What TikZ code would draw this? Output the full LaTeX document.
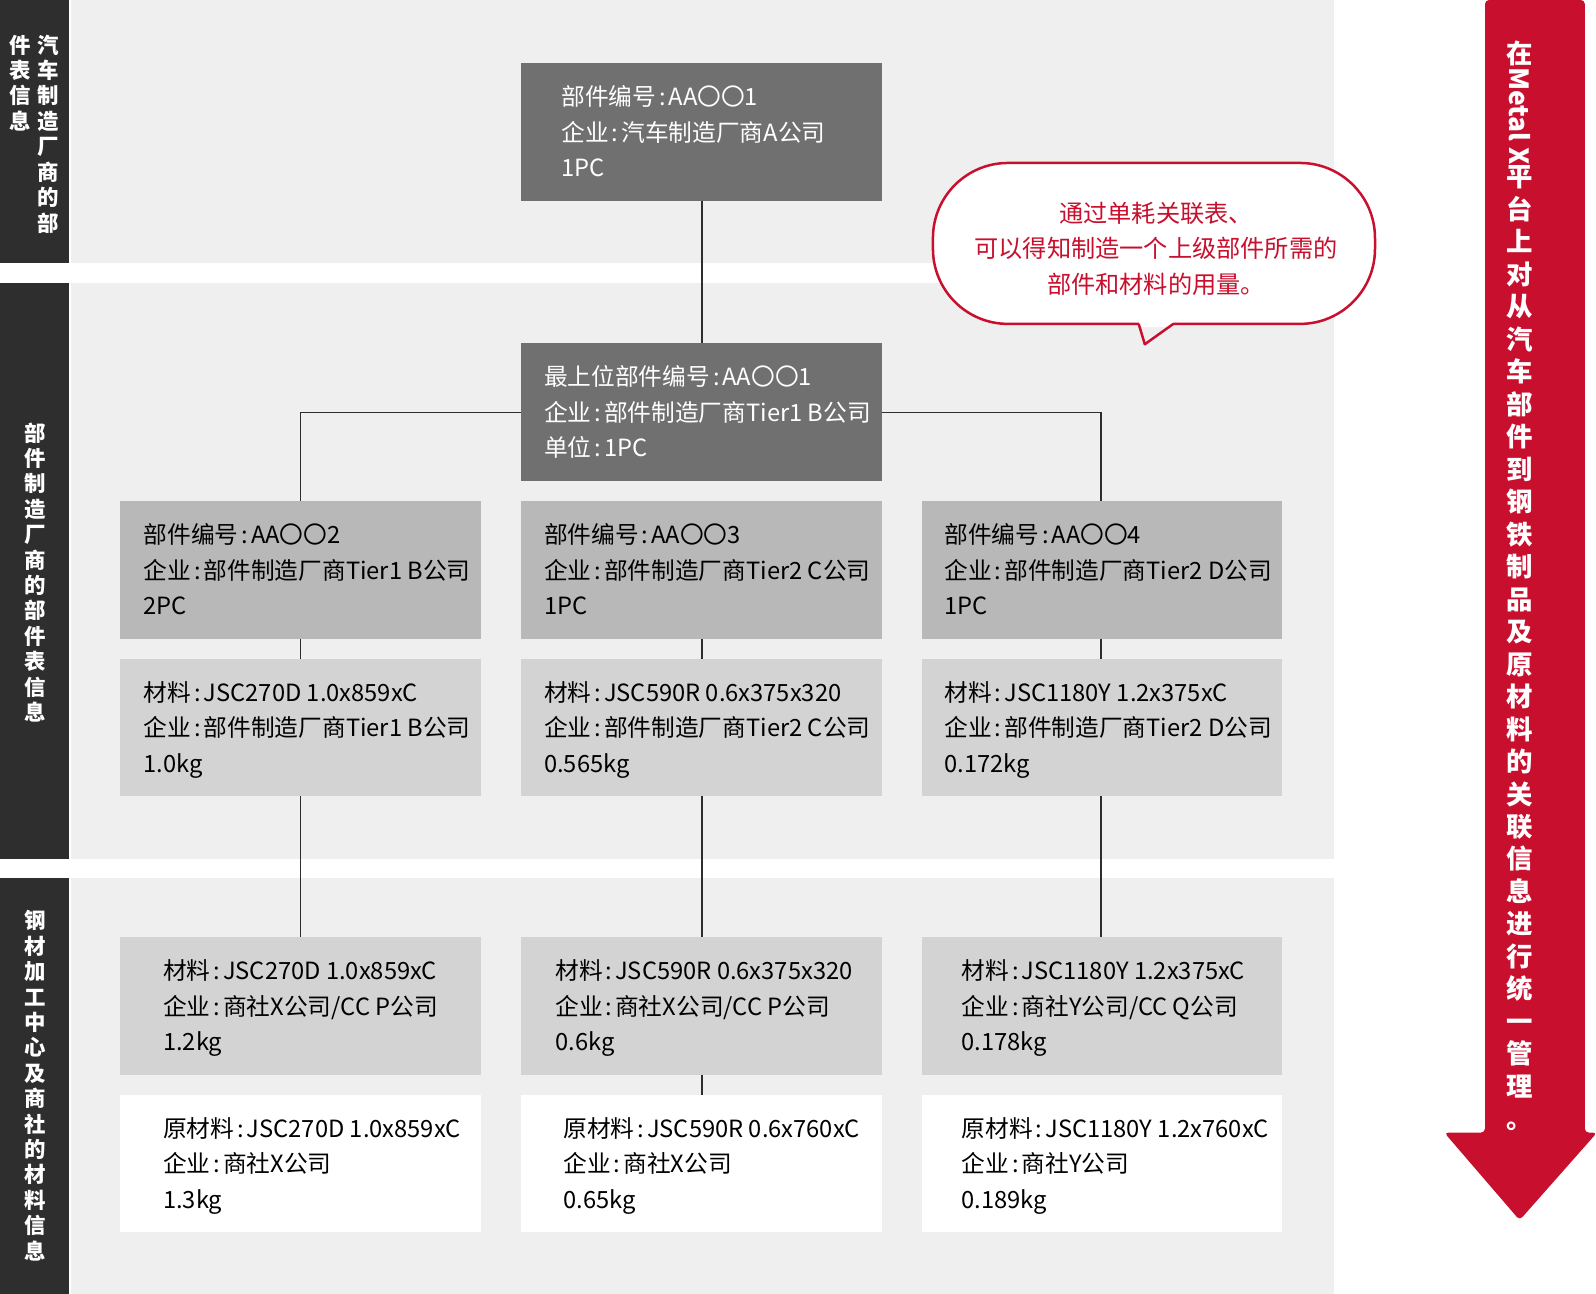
\documentclass[tikz,border=0pt]{standalone}
\usepackage{fontspec}
\setmainfont{Noto Sans CJK SC}
\definecolor{bgg}{HTML}{EFEFEF}
\definecolor{band}{HTML}{2E2E2E}
\definecolor{dk}{HTML}{707070}
\definecolor{md}{HTML}{B8B8B8}
\definecolor{lt}{HTML}{D3D3D3}
\definecolor{rd}{HTML}{C8102E}
\newcommand{\cln}{\kern3pt:\kern3pt}
\begin{document}
\begin{tikzpicture}[x=1.0185bp,y=-1.0185bp,
  boxtxt/.style={anchor=north west,align=left,font=\fontsize{23.8}{35.6}\selectfont,inner sep=0pt},
  vtxt/.style={align=center,font=\fontsize{21.5}{25.5}\selectfont\bfseries,text=white,inner sep=0pt},
  conn/.style={draw=band,line width=1.5bp}]
\useasboundingbox (0,0) rectangle (1567,1270);
% backgrounds
\fill[bgg] (70,0) rectangle (1310,258);
\fill[bgg] (70,278) rectangle (1310,843);
\fill[bgg] (70,862) rectangle (1310,1270);
\fill[band] (0,0) rectangle (68,258);
\fill[band] (0,278) rectangle (68,843);
\fill[band] (0,862) rectangle (68,1270);
\node[vtxt,anchor=north] (l1a) at (47,34) {汽\\车\\制\\造\\厂\\商\\的\\部};
\node[vtxt,anchor=north] (l1b) at (20,34) {件\\表\\信\\息};
\node[vtxt] (l2) at (35,562) {部\\件\\制\\造\\厂\\商\\的\\部\\件\\表\\信\\息};
\node[vtxt] (l3) at (35,1066) {钢\\材\\加\\工\\中\\心\\及\\商\\社\\的\\材\\料\\信\\息};
% boxes
\fill[dk] (512,62) rectangle (866,197);
\coordinate (top) at (689,197);
\fill[dk] (512,337) rectangle (866,472);
\coordinate (t1top) at (689,337);
\coordinate (t1l) at (512,405);
\coordinate (t1r) at (866,405);
\foreach \x in {118,512,905}{
  \fill[md] (\x,492) rectangle ++(354,135);
  \fill[lt] (\x,647) rectangle ++(354,135);
  \fill[lt] (\x,920) rectangle ++(354,135);
  \fill[white] (\x,1075) rectangle ++(354,135);
}
\coordinate (pa) at (295,492); \coordinate (pa2) at (295,627); \coordinate (ma) at (295,647); \coordinate (ma2) at (295,782); \coordinate (sa) at (295,920);
\coordinate (pb2) at (689,627); \coordinate (mb) at (689,647); \coordinate (mb2) at (689,782); \coordinate (sb) at (689,920); \coordinate (sb2) at (689,1055); \coordinate (rb) at (689,1075);
\coordinate (pc) at (1081,492); \coordinate (pc2) at (1081,627); \coordinate (mc) at (1081,647); \coordinate (mc2) at (1081,782); \coordinate (sc) at (1081,920);
\draw[conn] (top) -- (t1top);
\draw[conn] (t1l) -| (pa);
\draw[conn] (t1r) -| (pc);
\draw[conn] (pa2) -- (ma); \draw[conn] (ma2) -- (sa);
\draw[conn] (pb2) -- (mb); \draw[conn] (mb2) -- (sb); \draw[conn] (sb2) -- (rb);
\draw[conn] (pc2) -- (mc); \draw[conn] (mc2) -- (sc);
% texts
\node[boxtxt,text=white] (n0) at (551,84) {部件编号\cln AA〇〇1\\企业\cln 汽车制造厂商A公司\\1PC};
\node[boxtxt,text=white] (n1) at (534,359) {最上位部件编号\cln AA〇〇1\\企业\cln 部件制造厂商Tier1 B公司\\单位\cln 1PC};
\node[boxtxt] (pat) at (141,514) {部件编号\cln AA〇〇2\\企业\cln 部件制造厂商Tier1 B公司\\2PC};
\node[boxtxt] (pbt) at (534,514) {部件编号\cln AA〇〇3\\企业\cln 部件制造厂商Tier2 C公司\\1PC};
\node[boxtxt] (pct) at (927,514) {部件编号\cln AA〇〇4\\企业\cln 部件制造厂商Tier2 D公司\\1PC};
\node[boxtxt] (mat) at (141,669) {材料\cln JSC270D 1.0x859xC\\企业\cln 部件制造厂商Tier1 B公司\\1.0kg};
\node[boxtxt] (mbt) at (534,669) {材料\cln JSC590R 0.6x375x320\\企业\cln 部件制造厂商Tier2 C公司\\0.565kg};
\node[boxtxt] (mct) at (927,669) {材料\cln JSC1180Y 1.2x375xC\\企业\cln 部件制造厂商Tier2 D公司\\0.172kg};
\node[boxtxt] (sat) at (160,942) {材料\cln JSC270D 1.0x859xC\\企业\cln 商社X公司/CC P公司\\1.2kg};
\node[boxtxt] (sbt) at (545,942) {材料\cln JSC590R 0.6x375x320\\企业\cln 商社X公司/CC P公司\\0.6kg};
\node[boxtxt] (sct) at (944,942) {材料\cln JSC1180Y 1.2x375xC\\企业\cln 商社Y公司/CC Q公司\\0.178kg};
\node[boxtxt] (rat) at (160,1097) {原材料\cln JSC270D 1.0x859xC\\企业\cln 商社X公司\\1.3kg};
\node[boxtxt] (rbt) at (553,1097) {原材料\cln JSC590R 0.6x760xC\\企业\cln 商社X公司\\0.65kg};
\node[boxtxt] (rct) at (944,1097) {原材料\cln JSC1180Y 1.2x760xC\\企业\cln 商社Y公司\\0.189kg};
% callout
\draw[rd,line width=2.5bp,fill=white,rounded corners=75bp] (916,160) rectangle (1350,318);
\fill[white] (1118,312) rectangle (1152,321);
\draw[rd,line width=2.5bp,line join=round] (1118,318) -- (1124,338) -- (1152,318);
\node[align=center,text=rd,font=\fontsize{24.3}{35.5}\selectfont] (co) at (1135,244) {通过单耗关联表、\\可以得知制造一个上级部件所需的\\部件和材料的用量。};
% arrow
\fill[rd,rounded corners=4bp] (1458,0) -- (1556,0) -- (1556,1112) -- (1568,1112) -- (1492,1198) -- (1418,1112) -- (1458,1112) -- cycle;
\node[align=center,text=white,font=\fontsize{26.5}{32.6}\selectfont\bfseries,anchor=north,inner sep=0pt] (at) at (1492,40) {在\\\rotatebox[origin=c]{-90}{Metal X}\\平\\台\\上\\对\\从\\汽\\车\\部\\件\\到\\钢\\铁\\制\\品\\及\\原\\材\\料\\的\\关\\联\\信\\息\\进\\行\\统\\一\\管\\理\\。};
\end{tikzpicture}
\end{document}
